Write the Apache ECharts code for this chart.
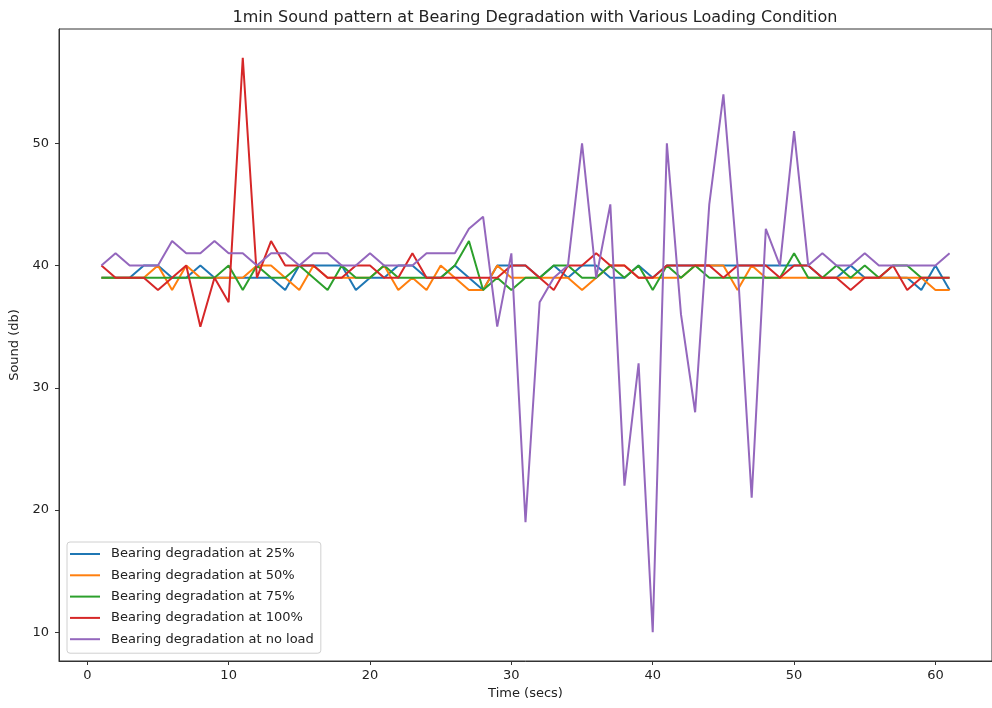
<!DOCTYPE html>
<html>
<head>
<meta charset="utf-8">
<script src="https://cdn.jsdelivr.net/npm/echarts@6/dist/echarts.min.js"></script>
<style>
  html, body { margin: 0; padding: 0; background: #fff; }
  #main { width: 992px; height: 708px; }
</style>
</head>
<body>
<div id="main"></div>
<script>
// time in seconds, 1..61
const seconds = [1,2,3,4,5,6,7,8,9,10,11,12,13,14,15,16,17,18,19,20,21,22,23,24,25,26,27,28,29,30,
  31,32,33,34,35,36,37,38,39,40,41,42,43,44,45,46,47,48,49,50,51,52,53,54,55,56,57,58,59,60,61];

const load25 = [39,39,39,40,40,39,39,40,39,39,39,39,39,38,40,40,40,40,38,39,39,40,40,39,39,40,39,38,40,40,
  40,39,40,39,40,40,39,39,40,39,40,40,40,40,40,40,40,40,40,40,40,39,39,40,39,39,39,39,38,40,38];
const load50 = [39,39,39,39,40,38,40,39,39,39,39,40,40,39,38,40,39,39,39,39,40,38,39,38,40,39,38,38,40,39,
  39,39,39,39,38,39,40,40,39,39,39,39,40,40,40,38,40,39,39,39,39,39,39,39,39,39,39,39,39,38,38];
const load75 = [39,39,39,39,39,39,39,39,39,40,38,40,39,39,40,39,38,40,39,39,40,39,39,39,39,40,42,38,39,38,
  39,39,40,40,39,39,40,39,40,38,40,39,40,39,39,39,39,39,39,41,39,39,40,39,40,39,40,40,39,39,39];
const load100 = [40,39,39,39,38,39,40,35,39,37,57,39,42,40,40,40,39,39,40,40,39,39,41,39,39,39,39,39,39,40,
  40,39,38,40,40,41,40,40,39,39,40,40,40,40,39,40,40,40,39,40,40,39,39,38,39,39,40,38,39,39,39];
const noLoad = [40,41,40,40,40,42,41,41,42,41,41,40,41,41,40,41,41,40,40,41,40,40,40,41,41,41,43,44,35,41,
  19,37,39,40,50,39,45,22,32,10,50,36,28,45,54,40,21,43,40,51,40,41,40,40,41,40,40,40,40,40,41];

const seriesNames = [
  'Bearing degradation at 25%',
  'Bearing degradation at 50%',
  'Bearing degradation at 75%',
  'Bearing degradation at 100%',
  'Bearing degradation at no load'
];
const seriesColors = ['#1f77b4', '#ff7f0e', '#2ca02c', '#d62728', '#9467bd'];
const xTicks = [0, 10, 20, 30, 40, 50, 60];
const yTicks = [10, 20, 30, 40, 50];

const allValues = [load25, load50, load75, load100, noLoad];

let chartDom = document.getElementById('main');
let myChart = echarts.init(chartDom, null, {renderer: 'canvas'});

const font = 'DejaVu Sans';
const textColor = '#222';

let option = {
  backgroundColor: '#fff',
  animation: false,
  title: {
    text: '1min Sound pattern at Bearing Degradation with Various Loading Condition',
    left: 530,
    top: 5,
    textAlign: 'center',
    textStyle: {fontFamily: font, fontSize: 16, fontWeight: 'normal', color: textColor}
  },
  grid: {
    left: 59,
    top: 29,
    width: 941,
    height: 632,
    show: true,
    borderColor: '#333',
    borderWidth: 1
  },
  legend: {
    orient: 'vertical',
    left: 67,
    top: 542,
    icon: 'rect',
    itemWidth: 30,
    itemHeight: 2,
    itemGap: 5.3,
    padding: [4, 7, 6, 3],
    backgroundColor: 'rgba(255,255,255,0.8)',
    borderColor: '#d0d0d0',
    borderWidth: 1,
    borderRadius: 3,
    textStyle: {fontFamily: font, fontSize: 13, color: textColor, lineHeight: 16, padding: [0, 0, 0, 6]},
    data: seriesNames
  },
  xAxis: {
    type: 'value',
    min: -2,
    max: 64,
    name: 'Time (secs)',
    nameLocation: 'middle',
    nameGap: 25,
    nameTextStyle: {fontFamily: font, fontSize: 13, color: textColor},
    axisLine: {show: true, onZero: false, lineStyle: {color: '#333'}},
    axisTick: {show: true, length: 4, lineStyle: {color: '#333'}, customValues: xTicks},
    axisLabel: {fontFamily: font, fontSize: 13, color: textColor, margin: 8, customValues: xTicks},
    splitLine: {show: false}
  },
  yAxis: {
    type: 'value',
    min: 7.65,
    max: 59.35,
    name: 'Sound (db)',
    nameLocation: 'middle',
    nameGap: 36,
    nameTextStyle: {fontFamily: font, fontSize: 13, color: textColor},
    axisLine: {show: true, onZero: false, lineStyle: {color: '#333'}},
    axisTick: {show: true, length: 4, lineStyle: {color: '#333'}, customValues: yTicks},
    axisLabel: {fontFamily: font, fontSize: 13, color: textColor, margin: 10, customValues: yTicks},
    splitLine: {show: false}
  },
  series: seriesNames.map(function (name, i) {
    return {
      name: name,
      type: 'line',
      symbol: 'none',
      data: seconds.map(function (s, k) { return [s, allValues[i][k]]; }),
      lineStyle: {width: 2, color: seriesColors[i]},
      itemStyle: {color: seriesColors[i]}
    };
  })
};

option && myChart.setOption(option);
</script>
</body>
</html>
